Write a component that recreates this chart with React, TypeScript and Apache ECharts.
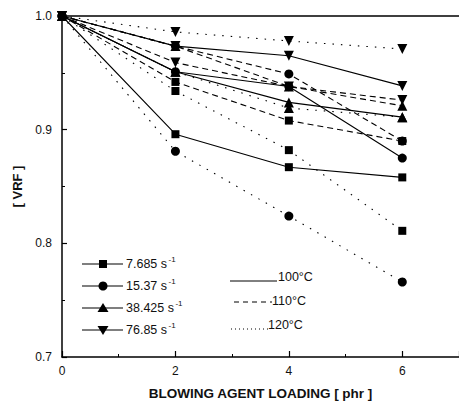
import React, { useEffect, useRef } from 'react';
import * as echarts from 'echarts';

// x values: blowing agent loading (phr)
const loading = [0, 2, 4, 6];
const yTickLabels = ['0.7', '0.8', '0.9', '1.0'];
const rateLabels = ['7.685 s', '15.37 s', '38.425 s', '76.85 s'];
const tempLabels = ['100°C', '110°C', '120°C'];

// 100 °C (solid)
const sq100 = [1, 0.896, 0.867, 0.858];
const ci100 = [1, 0.951, 0.938, 0.875];
const tu100 = [1, 0.951, 0.924, 0.911];
const td100 = [1, 0.9735, 0.965, 0.9385];
// 110 °C (dashed)
const sq110 = [1, 0.942, 0.908, 0.89];
const ci110 = [1, 0.9735, 0.949, 0.89];
const tu110 = [1, 0.9735, 0.938, 0.921];
const td110 = [1, 0.959, 0.938, 0.926];
// 120 °C (dotted)
const sq120 = [1, 0.934, 0.882, 0.811];
const ci120 = [1, 0.881, 0.824, 0.766];
const tu120 = [1, 0.951, 0.919, 0.911];
const td120 = [1, 0.986, 0.978, 0.971];

const FONT = '"Liberation Sans", Arial, Helvetica, sans-serif';

function textWidth(t: string, size: number): number {
  const c = document.createElement('canvas').getContext('2d');
  if (!c) return t.length * size * 0.55;
  c.font = size + 'px ' + FONT;
  return c.measureText(t).width;
}

export default function App() {
  const ref = useRef<HTMLDivElement>(null);
  useEffect(() => {
    if (!ref.current) return;
    const chart = echarts.init(ref.current, undefined, { renderer: 'svg' });

    const groups = [
      { temp: tempLabels[0], type: 'solid' as any, arrs: [sq100, ci100, tu100, td100] },
      { temp: tempLabels[1], type: [6, 4] as any, arrs: [sq110, ci110, tu110, td110] },
      { temp: tempLabels[2], type: [1.5, 7] as any, arrs: [sq120, ci120, tu120, td120] },
    ];
    const symbols = [
      { symbol: 'rect', size: 8, rotate: 0 },
      { symbol: 'circle', size: 9, rotate: 0 },
      { symbol: 'triangle', size: 10, rotate: 0 },
      { symbol: 'triangle', size: 10, rotate: 180 },
    ];
    const series: any[] = [];
    groups.forEach((g) => {
      g.arrs.forEach((arr, k) => {
        series.push({
          type: 'line',
          name: rateLabels[k] + ' ' + g.temp,
          data: loading.map((x, i) => [x, arr[i]]),
          symbol: symbols[k].symbol,
          symbolSize: symbols[k].size,
          symbolRotate: symbols[k].rotate,
          showAllSymbol: true,
          lineStyle: { color: '#000', width: 1.1, type: g.type },
          itemStyle: { color: '#000' },
          z: 3,
        });
      });
    });

    const legendRows = [264, 286, 308, 330];
    const legendGraphics: any[] = [];
    legendRows.forEach((y, k) => {
      legendGraphics.push({
        type: 'line',
        shape: { x1: 82, y1: y, x2: 123, y2: y },
        style: { stroke: '#000', lineWidth: 1.2 },
      });
      const mx = 103;
      if (k === 0) {
        legendGraphics.push({ type: 'rect', shape: { x: mx - 4, y: y - 4, width: 8, height: 8 }, style: { fill: '#000' } });
      } else if (k === 1) {
        legendGraphics.push({ type: 'circle', shape: { cx: mx, cy: y, r: 4.5 }, style: { fill: '#000' } });
      } else if (k === 2) {
        legendGraphics.push({ type: 'polygon', shape: { points: [[mx, y - 5], [mx + 5.5, y + 4], [mx - 5.5, y + 4]] }, style: { fill: '#000' } });
      } else {
        legendGraphics.push({ type: 'polygon', shape: { points: [[mx, y + 5], [mx + 5.5, y - 4], [mx - 5.5, y - 4]] }, style: { fill: '#000' } });
      }
      const w = textWidth(rateLabels[k], 12.5);
      legendGraphics.push({
        type: 'text',
        x: 126,
        y: y,
        style: { text: rateLabels[k], fontSize: 12.5, fontFamily: FONT, fill: '#111', verticalAlign: 'middle' },
      });
      legendGraphics.push({
        type: 'text',
        x: 126 + w + 1.5,
        y: y - 5,
        style: { text: '-1', fontSize: 8, fontFamily: FONT, fill: '#111', verticalAlign: 'middle' },
      });
    });
    // temperature legend
    const tempRows = [
      { y: 277, x1: 230, x2: 277, lineY: 281, type: 'solid', tx: 278 },
      { y: 301, x1: 234, x2: 272, lineY: 302, type: [5, 4], tx: 272 },
      { y: 325, x1: 231, x2: 268, lineY: 329, type: [1, 3], tx: 268 },
    ];
    tempRows.forEach((r, k) => {
      legendGraphics.push({
        type: 'line',
        shape: { x1: r.x1, y1: r.lineY, x2: r.x2, y2: r.lineY },
        style: { stroke: '#000', lineWidth: 1, lineDash: r.type === 'solid' ? null : r.type },
      });
      legendGraphics.push({
        type: 'text',
        x: r.tx,
        y: r.y,
        style: { text: tempLabels[k], fontSize: 12.5, fontFamily: FONT, fill: '#111', verticalAlign: 'middle' },
      });
    });

    chart.setOption({
      animation: false,
      backgroundColor: '#fff',
      textStyle: { fontFamily: FONT },
      grid: { left: 62, top: 16, width: 398, height: 347, containLabel: false },
      xAxis: [
        {
          type: 'value',
          min: 0,
          max: 7,
          interval: 2,
          position: 'bottom',
          name: 'BLOWING AGENT LOADING [ phr ]',
          nameLocation: 'middle',
          nameGap: 29,
          nameTextStyle: { fontSize: 13.5, fontWeight: 'bold', color: '#111', fontFamily: FONT },
          axisLine: { lineStyle: { color: '#000', width: 1.5 } },
          axisTick: { inside: true, length: 6, lineStyle: { color: '#000', width: 1.2 } },
          minorTick: { show: true, splitNumber: 2, length: 3, lineStyle: { color: '#000', width: 1 } },
          axisLabel: { showMaxLabel: false, fontSize: 12, color: '#111', margin: 8, fontFamily: FONT },
          splitLine: { show: false },
        },
        {
          type: 'value',
          min: 0,
          max: 7,
          position: 'top',
          axisLine: { show: true, lineStyle: { color: '#000', width: 1.5 } },
          axisTick: { show: false },
          axisLabel: { show: false },
          splitLine: { show: false },
        },
      ],
      yAxis: {
        type: 'value',
        min: 0.7,
        max: 1.0,
        interval: 0.1,
        name: '[ VRF ]',
        nameLocation: 'middle',
        nameGap: 38,
        nameTextStyle: { fontSize: 13, fontWeight: 'bold', color: '#111', fontFamily: FONT },
        axisLine: { show: true, lineStyle: { color: '#000', width: 1.5 } },
        axisTick: { inside: true, length: 5, lineStyle: { color: '#000', width: 1.2 } },
        minorTick: { show: true, splitNumber: 2, length: 3, lineStyle: { color: '#000', width: 1 } },
        axisLabel: {
          fontSize: 12,
          color: '#111',
          margin: 10,
          fontFamily: FONT,
          formatter: (v: number) => yTickLabels[Math.round((v - 0.7) * 10)] ?? '',
        },
        splitLine: { show: false },
      },
      series,
      graphic: legendGraphics,
    });
    return () => chart.dispose();
  }, []);
  return <div ref={ref} style={{ position: 'fixed', left: 0, top: 0, width: 459, height: 405 }} />;
}
